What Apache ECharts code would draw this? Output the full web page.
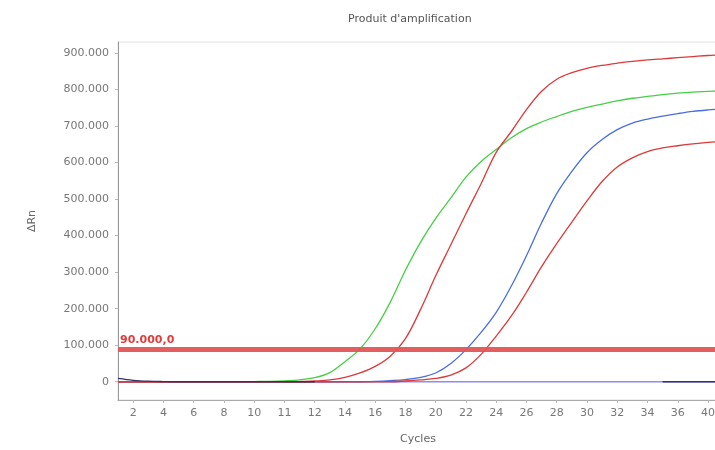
<!DOCTYPE html>
<html>
<head>
<meta charset="utf-8">
<script src="https://cdn.jsdelivr.net/npm/echarts@6/dist/echarts.min.js"></script>
<style>
html,body{margin:0;padding:0;background:#fff;}
#chart{width:715px;height:450px;}
</style>
</head>
<body>
<div id="chart"></div>
<script>
const titleText = "Produit d'amplification";
const cycles = [1,2,3,4,5,6,7,8,9,10,11,12,13,14,15,16,17,18,19,20,21,22,23,24,25,26,27,28,29,30,31,32,33,34,35,36,37,38,39,40,41];
const xTickValues = [2,4,6,8,10,12,14,16,18,20,22,24,26,28,30,32,34,36,38,40];
const xTickLabels = ["2","4","6","8","10","11","12","14","16","18","20","22","24","26","28","30","32","34","36","40"];
const yTickValues = [0,100000,200000,300000,400000,500000,600000,700000,800000,900000];
const yTickLabels = ["0","100.000","200.000","300.000","400.000","500.000","600.000","700.000","800.000","900.000"];
const thresholdValue = 90000;
const thresholdLabel = "90.000,0";

const greenCurve = [0,0,0,0,0,0,0,0,0,500,1000,2500,5000,11000,25000,55000,90000,145000,218000,305000,382000,447000,503000,560000,603000,636000,668000,693000,711000,726000,740000,751000,760000,769000,776000,781000,786000,790000,793000,795000,797000];
const redCurve1 = [0,0,0,0,0,0,0,0,0,0,0,0,0,2000,5000,12000,24000,42000,70000,118000,198000,290000,375000,460000,542000,628000,685000,745000,795000,828000,846000,858000,866000,872000,877000,881000,884000,887000,890000,893000,895000];
const blueCurve = [0,0,0,0,0,0,0,0,0,0,0,0,0,0,0,0,0,1000,3000,6000,12000,24000,50000,88000,135000,190000,262000,345000,435000,515000,576000,627000,663000,690000,708000,719000,727000,734000,740000,744000,747000];
const redCurve2 = [0,0,0,0,0,0,0,0,0,0,0,0,0,0,0,0,0,0,0,2000,5000,9000,18000,38000,75000,125000,180000,245000,315000,378000,437000,495000,548000,588000,613000,630000,640000,646000,651000,655000,658000];
const flatControl = [0,0,0,0,0,0,0,0,0,0,0,0,0,0,0,0,0,0,0,0,0,0,0,0,0,0,0,0,0,0,0,0,0,0,0,0,0,0,0,0,0];
const darkBaseline = [9000,4000,1500,500,0,0,0,0,0,0,0,0,0,0,null,null,null,null,null,null,null,null,null,null,null,null,null,null,null,null,null,null,null,null,null,null,0,0,0,0,0];

function pairs(vals){ return cycles.map((c,i)=>[c, vals[i]]); }

const chart = echarts.init(document.getElementById('chart'), null, {renderer:'canvas'});
const font = 'DejaVu Sans';
function lineSeries(name, vals, color, z){
  return {name:name, type:'line', data:pairs(vals), showSymbol:false, smooth:0.35,
    lineStyle:{color:color, width:1.3}, itemStyle:{color:color}, z:z, silent:true, connectNulls:false};
}
chart.setOption({
  animation:false,
  backgroundColor:'#ffffff',
  title:{text:titleText, left:343, top:9, textStyle:{fontFamily:font, fontSize:11, fontWeight:'normal', color:'#555'}},
  grid:{left:118, top:42, right:-3, bottom:50, show:true, borderColor:'#e2e2e2', borderWidth:1, outerBoundsMode:'none', containLabel:false},
  xAxis:{type:'value', min:1, max:40.66, name:'Cycles', nameLocation:'middle', nameGap:34,
    nameTextStyle:{fontFamily:font, fontSize:11, color:'#666'},
    axisLine:{show:true, onZero:false, lineStyle:{color:'#aaa'}},
    axisTick:{show:true, length:3, lineStyle:{color:'#bbb'}, customValues:xTickValues},
    axisLabel:{fontFamily:font, fontSize:11, color:'#777', margin:8, customValues:xTickValues, hideOverlap:false,
      formatter:function(v){ const i=xTickValues.indexOf(v); return i>=0?xTickLabels[i]:''; }},
    splitLine:{show:false}},
  yAxis:{type:'value', min:-50000, max:930000, name:'ΔRn', nameLocation:'middle', nameGap:80, nameRotate:90,
    nameTextStyle:{fontFamily:font, fontSize:11, color:'#666'},
    axisLine:{show:true, onZero:false, lineStyle:{color:'#999'}},
    axisTick:{show:true, length:3, lineStyle:{color:'#bbb'}, customValues:yTickValues},
    axisLabel:{fontFamily:font, fontSize:11, color:'#777', margin:9, customValues:yTickValues,
      formatter:function(v){ const i=yTickValues.indexOf(v); return i>=0?yTickLabels[i]:''; }},
    splitLine:{show:false}},
  series:[
    Object.assign(lineSeries('control', flatControl, '#8c8cf2', 2), {
      markLine:{silent:true, symbol:['none','none'], animation:false,
        lineStyle:{color:'#e25555', width:5, type:'solid', opacity:0.95},
        label:{show:true, position:'insideStartTop', formatter:thresholdLabel, color:'#e03030', fontFamily:font, fontSize:11, fontWeight:'bold', distance:[2,3]},
        data:[{yAxis:thresholdValue}]}
    }),
    lineSeries('green', greenCurve, '#46cf46', 3),
    lineSeries('red1', redCurve1, '#dc3a3a', 4),
    lineSeries('blue', blueCurve, '#4a6ee0', 3),
    lineSeries('red2', redCurve2, '#dc3a3a', 4),
    lineSeries('base', darkBaseline, '#34306a', 5)
  ]
});
</script>
</body>
</html>
